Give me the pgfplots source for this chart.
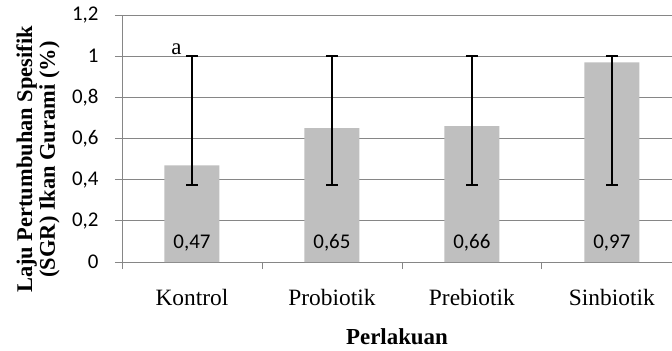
\documentclass[border=0pt]{standalone}
\usepackage{pgfplots}
\pgfplotsset{compat=1.18}
\usepackage{fontspec}
\setmainfont{Liberation Serif}
\newfontfamily\calib{Carlito}
\definecolor{barc}{RGB}{191,191,191}
\definecolor{gridc}{RGB}{134,134,134}
\begin{document}
\begin{tikzpicture}
\begin{axis}[
  name=ax,
  scale only axis,
  width=550bp, height=247bp,
  xmin=-0.5, xmax=3.43,
  ymin=0, ymax=1.2,
  axis x line*=bottom, axis y line*=left,
  axis line style={gridc, line width=0.8pt, -},
  ytick={0,0.2,0.4,0.6,0.8,1,1.2},
  ymajorgrids,
  grid style={gridc, line width=0.8pt},
  xtick={0,1,2,3},
  xticklabels={Kontrol,Probiotik,Prebiotik,Sinbiotik},
  minor xtick={-0.5,0.5,1.5,2.5},
  major x tick style={draw=none},
  minor x tick style={gridc, line width=0.8pt},
  major y tick style={gridc, line width=0.8pt},
  tick align=outside,
  major tick length=7bp, minor tick length=7bp,
  /pgf/number format/use comma,
  /pgf/number format/assume math mode=true,
  yticklabel style={font=\fontsize{21}{24}\calib, xshift=-13bp},
  xticklabel style={font=\fontsize{23.5}{27}\selectfont, yshift=-17bp},
  xlabel={\textbf{Perlakuan}},
  xlabel style={font=\fontsize{23}{26}\selectfont, yshift=-16bp},
  clip=false,
]
\addplot[ybar, bar width=55bp, fill=barc, draw=none,
  error bars/.cd, y dir=both, y explicit,
  error bar style={black, line width=1.4pt},
  error mark options={rotate=90, mark size=6bp, black, line width=1.4pt}]
  coordinates {
  (0,0.47) += (0,0.53) -= (0,0.095)
  (1,0.65) += (0,0.35) -= (0,0.275)
  (2,0.66) += (0,0.34) -= (0,0.285)
  (3,0.97) += (0,0.03) -= (0,0.595)
  };
\node[font=\fontsize{21}{24}\calib, anchor=base] at (axis cs:0,0.065) {0,47};
\node[font=\fontsize{21}{24}\calib, anchor=base] at (axis cs:1,0.065) {0,65};
\node[font=\fontsize{21}{24}\calib, anchor=base] at (axis cs:2,0.065) {0,66};
\node[font=\fontsize{21}{24}\calib, anchor=base] at (axis cs:3,0.065) {0,97};
\node[font=\fontsize{23}{26}\selectfont, anchor=south, inner sep=1bp] at (axis cs:-0.11,1.0) {a};
\node[rotate=90, align=center, font=\fontsize{22.5}{23}\selectfont\bfseries, anchor=center]
  at ([xshift=-84bp, yshift=-21bp]axis description cs:0,0.5)
  {Laju Pertumbuhan Spesifik\\(SGR) Ikan Gurami (\%)};
\end{axis}
\pgfresetboundingbox
\path[use as bounding box] ([xshift=-122bp,yshift=-89bp]ax.south west) rectangle ([yshift=15bp]ax.north east);
\end{tikzpicture}
\end{document}
